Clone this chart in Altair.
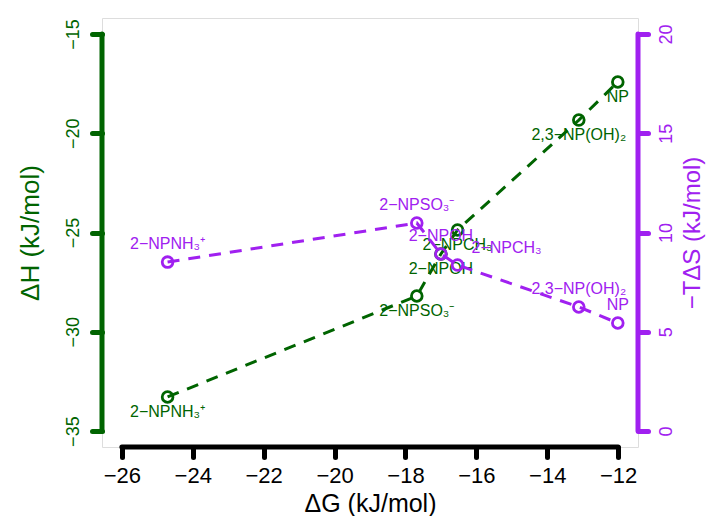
import altair as alt
import pandas as pd

# ---- data ----
compounds = ["2−NPNH₃⁺", "2−NPSO₃⁻", "2−NPOH", "2−NPCH₃", "2,3−NP(OH)₂", "NP"]
dG = [-24.71, -17.68, -17.00, -16.53, -13.11, -12.01]
dH = [-33.28, -28.20, -26.08, -24.87, -19.34, -17.42]
mTdS = [8.51, 10.48, 8.92, 8.36, 6.25, 5.44]

x_ticks = [-26, -24, -22, -20, -18, -16, -14, -12]
dh_ticks = [-35, -30, -25, -20, -15]
tds_ticks = [0, 5, 10, 15, 20]

GREEN = "#006400"
PURPLE = "#A020F0"
FONT = "Liberation Sans"
W, H = 536, 429

df = pd.DataFrame({"name": compounds, "dG": dG, "dH": dH, "mTdS": mTdS})
xr = pd.DataFrame({"x1": [min(x_ticks)], "x2": [max(x_ticks)]})
hr = pd.DataFrame({"y1": [min(dh_ticks)], "y2": [max(dh_ticks)]})
sr = pd.DataFrame({"y1": [min(tds_ticks)], "y2": [max(tds_ticks)]})

x_pad = (max(x_ticks) - min(x_ticks)) * 0.04
h_pad = (max(dh_ticks) - min(dh_ticks)) * 0.04
s_pad = (max(tds_ticks) - min(tds_ticks)) * 0.04

xscale = alt.Scale(domain=[min(x_ticks) - x_pad, max(x_ticks) + x_pad], nice=False, zero=False)
hscale = alt.Scale(domain=[min(dh_ticks) - h_pad, max(dh_ticks) + h_pad], nice=False, zero=False)
sscale = alt.Scale(domain=[min(tds_ticks) - s_pad, max(tds_ticks) + s_pad], nice=False, zero=False)

x_enc = alt.X(
    "dG:Q", scale=xscale,
    axis=alt.Axis(
        values=x_ticks, title="ΔG (kJ/mol)", domain=False, grid=False,
        tickColor="black", tickWidth=5, tickSize=10, tickCap="round",
        labelColor="black", labelFontSize=22, labelPadding=8, labelFont=FONT,
        titleColor="black", titleFontSize=25, titleFont=FONT, titleFontWeight="normal",
        titleX=W / 2, titleY=64, titleAlign="center", titleBaseline="alphabetic",
    ),
)

yh_enc = alt.Y(
    "dH:Q", scale=hscale,
    axis=alt.Axis(
        orient="left", values=dh_ticks, title="ΔH (kJ/mol)", domain=False, grid=False,
        tickColor=GREEN, tickWidth=5, tickSize=10, tickCap="round",
        labelColor=GREEN, labelFontSize=18, labelFont=FONT, labelAngle=270,
        labelAlign="center", labelBaseline="bottom", labelPadding=10,
        titleColor=GREEN, titleFontSize=26, titleFont=FONT, titleFontWeight="normal",
        titleAngle=270, titleX=-72, titleY=H / 2, titleAlign="center", titleBaseline="middle",
    ),
)

ys_enc = alt.Y(
    "mTdS:Q", scale=sscale,
    axis=alt.Axis(
        orient="right", values=tds_ticks, title="−TΔS (kJ/mol)", domain=False, grid=False,
        tickColor=PURPLE, tickWidth=5, tickSize=10, tickCap="round",
        labelColor=PURPLE, labelFontSize=18, labelFont=FONT, labelAngle=270,
        labelAlign="center", labelBaseline="top", labelPadding=9,
        titleColor=PURPLE, titleFontSize=24, titleFont=FONT, titleFontWeight="normal",
        titleAngle=270, titleX=54, titleY=H / 2, titleAlign="center", titleBaseline="middle",
    ),
)

base = alt.Chart(df)

# ---- ΔH (green) layer ----
g_line = base.mark_line(color=GREEN, strokeWidth=3, strokeDash=[12, 9]).encode(
    x=x_enc, y=yh_enc, order="dG:Q")
g_pts = base.mark_point(shape="circle", filled=False, color=GREEN, size=115, strokeWidth=2.8, opacity=1).encode(
    x="dG:Q", y="dH:Q")
g_txt = base.mark_text(color=GREEN, fontSize=16, font=FONT, dy=15, baseline="middle").encode(
    x="dG:Q", y="dH:Q", text="name:N")
g_axis = alt.Chart(hr).mark_rule(color=GREEN, strokeWidth=5, strokeCap="round").encode(
    x=alt.value(0), y=alt.Y("y1:Q", scale=hscale), y2="y2:Q")
x_axis = alt.Chart(xr).mark_rule(color="black", strokeWidth=5, strokeCap="round").encode(
    y=alt.value(H), x=alt.X("x1:Q", scale=xscale), x2="x2:Q")
green = alt.layer(g_line, g_pts, g_txt, g_axis, x_axis)

# ---- −TΔS (purple) layer ----
p_line = base.mark_line(color=PURPLE, strokeWidth=3, strokeDash=[12, 9]).encode(
    x="dG:Q", y=ys_enc, order="dG:Q")
p_pts = base.mark_point(shape="circle", filled=False, color=PURPLE, size=115, strokeWidth=2.8, opacity=1).encode(
    x="dG:Q", y="mTdS:Q")
p_txt = base.transform_filter(alt.datum.name != "2−NPCH₃").mark_text(
    color=PURPLE, fontSize=16, font=FONT, dy=-18, baseline="middle").encode(
    x="dG:Q", y="mTdS:Q", text="name:N")
p_txt2 = base.transform_filter(alt.datum.name == "2−NPCH₃").mark_text(
    color=PURPLE, fontSize=16, font=FONT, dx=49, dy=-17, baseline="middle").encode(
    x="dG:Q", y="mTdS:Q", text="name:N")
p_axis = alt.Chart(sr).mark_rule(color=PURPLE, strokeWidth=5, strokeCap="round").encode(
    x=alt.value(W), y=alt.Y("y1:Q", scale=sscale), y2="y2:Q")
purple = alt.layer(p_line, p_pts, p_txt, p_txt2, p_axis)

chart = alt.layer(green, purple).resolve_scale(y="independent").properties(
    width=W, height=H,
    padding={"left": 94, "top": 10, "right": 69, "bottom": 69},
    autosize=alt.AutoSizeParams(type="none"),
).configure_view(stroke="#222222", strokeWidth=1.2).configure(font=FONT)

chart.save("out.html", embed_options={"renderer": "svg", "actions": False})
